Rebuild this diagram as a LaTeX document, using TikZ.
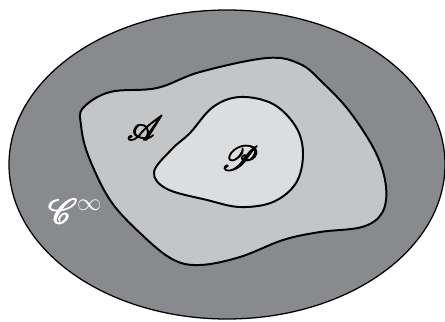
\documentclass[tikz,border=0pt]{standalone}
\usepackage{amsmath,amssymb}
\usepackage{mathrsfs}
\usepackage{xcolor}
\usepackage{tikz}
\usetikzlibrary{calc}
\newcommand{\heavy}[1]{\special{pdf:literal direct 2 Tr 0.7 w}#1\special{pdf:literal direct 0 Tr}}
\definecolor{smoothgray}{HTML}{898A8E}
\definecolor{analgray}{HTML}{C4C5C7}
\definecolor{polygray}{HTML}{DCDDDF}
\tikzset{
  region/.style={draw=black, line width=1.4pt},
  outer/.style={draw=black, line width=0.9pt, fill=smoothgray},
  setlabel/.style={font=\fontsize{24}{26}\selectfont, inner sep=0pt},
}

\begin{document}
\begin{tikzpicture}[x=0.025cm, y=-0.025cm]
  \useasboundingbox (0,0) rectangle (445,321);
  % C^infinity
  \draw[outer] (227,164.5) ellipse [x radius=218, y radius=154.5];
  % analytic
  \draw[region, fill=analgray] plot[smooth cycle, tension=0.6] coordinates {
    (83,108) (110,92) (157,88) (200,72) (267,58) (300,64) (322,82)
    (350,112) (376,153) (386,187) (382,213) (362,227) (320,232)
    (283,240) (240,257) (200,265) (172,259) (140,233) (110,200)
    (88,155) (81,125)};
  % polynomial
  \draw[region, fill=polygray] plot[smooth cycle, tension=0.6] coordinates {
    (154,172) (172,149) (190,133) (213,107) (240,97) (273,104)
    (296,127) (303,154) (296,183) (273,202) (240,207) (207,200)
    (167,189)};
  \node[setlabel] (labelA) at (145,128) {\heavy{$\mathscr{A}$}};
  \node[setlabel] (labelP) at (240,158) {\heavy{$\mathscr{P}$}};
  \node[setlabel, text=white, font=\fontsize{27}{29}\selectfont] (labelC) at (75,211)
    {\heavy{$\mathscr{C}$}$^{\infty}$};
\end{tikzpicture}
\end{document}
